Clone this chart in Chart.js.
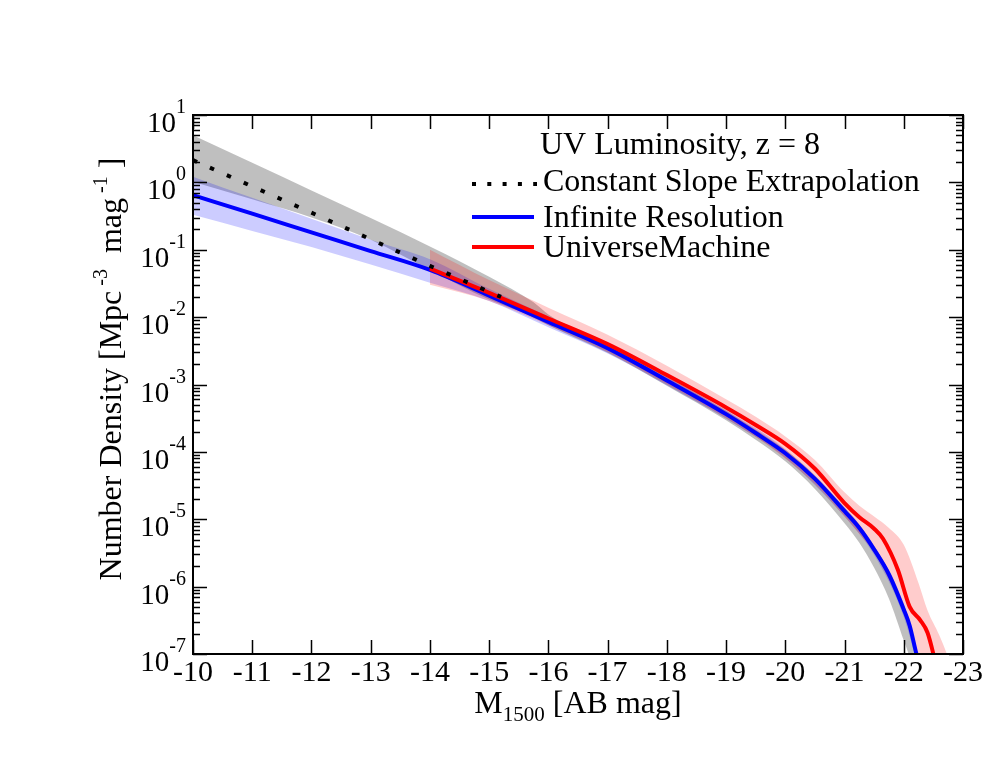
<!DOCTYPE html>
<html>
<head>
<meta charset="utf-8">
<script src="https://cdn.jsdelivr.net/npm/chart.js@4.4.1/dist/chart.umd.min.js"></script>
<style>
  body { margin: 0; background: #fff; }
  #uvlf { display: block; }
</style>
</head>
<body>
<canvas id="uvlf" width="997" height="770"></canvas>
<script>
// values, densities given as log10 (dex)
const magLine = [-10, -11, -12, -13, -14, -15, -16, -17, -18, -19, -19.5, -20, -20.5, -21, -21.25, -21.5, -21.75, -22, -22.1, -22.2, -22.3];
const infiniteResDex = [-0.19, -0.465, -0.743, -1.02, -1.30, -1.68, -2.07, -2.46, -2.94, -3.44, -3.72, -4.02, -4.40, -4.88, -5.13, -5.45, -5.82, -6.34, -6.58, -6.95, -7.3];

const magUM = [-14, -15, -16, -17, -18, -19, -19.5, -20, -20.5, -21, -21.25, -21.5, -21.65, -21.9, -22.1, -22.28, -22.4, -22.5, -22.6];
const universeMachineDex = [-1.28, -1.64, -2.02, -2.40, -2.86, -3.34, -3.60, -3.88, -4.25, -4.76, -4.97, -5.14, -5.29, -5.75, -6.3, -6.5, -6.68, -7.0, -7.4];

const magSlope = [-10, -12, -14, -15.2];
const constSlopeDex = [0.33, -0.45, -1.24, -1.70];

const magGrey = [-10, -11, -12, -13, -14, -15, -15.75, -16, -17, -18, -19, -19.5, -20, -20.5, -21, -21.25, -21.5, -21.75, -22, -22.1, -22.2];
const greyUpperDex = [0.70, 0.29, -0.12, -0.53, -0.95, -1.40, -1.78, -1.96, -2.41, -2.89, -3.39, -3.67, -3.97, -4.35, -4.83, -5.08, -5.40, -5.77, -6.28, -6.52, -6.9];
const greyLowerDex = [0.01, -0.25, -0.52, -0.85, -1.30, -1.74, -2.0, -2.12, -2.53, -3.02, -3.53, -3.82, -4.14, -4.55, -5.06, -5.35, -5.72, -6.18, -6.8, -7.05, -7.4];

const magBlueBand = [-10, -11, -12, -13, -14, -15, -16, -17, -18, -19, -20, -21, -21.5, -22, -22.3];
const blueUpperDex = [0.085, -0.23, -0.54, -0.85, -1.14, -1.58, -1.99, -2.39, -2.88, -3.38, -3.96, -4.82, -5.39, -6.25, -7.2];
const blueLowerDex = [-0.48, -0.72, -0.96, -1.22, -1.49, -1.76, -2.15, -2.54, -3.01, -3.51, -4.09, -4.96, -5.53, -6.45, -7.4];

const magPink = [-14, -15, -16, -17, -18, -19, -19.5, -20, -20.5, -21, -21.25, -21.5, -21.75, -22, -22.25, -22.4, -22.6, -22.75, -22.85];
const pinkUpperDex = [-1.00, -1.45, -1.86, -2.26, -2.72, -3.22, -3.48, -3.77, -4.12, -4.60, -4.80, -4.96, -5.13, -5.38, -5.95, -6.35, -6.72, -7.05, -7.3];
const pinkLowerDex = [-1.52, -1.76, -2.12, -2.52, -3.0, -3.50, -3.78, -4.1, -4.48, -4.96, -5.22, -5.5, -5.9, -6.4, -7.1, -7.4, -7.6, -7.7, -7.8];

const xTicks = [-10, -11, -12, -13, -14, -15, -16, -17, -18, -19, -20, -21, -22, -23];
const yExponents = [1, 0, -1, -2, -3, -4, -5, -6, -7];

const legendTitle = 'UV Luminosity, z = 8';
const legendLabels = ['Constant Slope Extrapolation', 'Infinite Resolution', 'UniverseMachine'];

const FONT = '"Liberation Serif", "Times New Roman", serif';

function toPoints(mags, dex) {
    return mags.map((m, i) => ({ x: m, y: Math.pow(10, dex[i]) }));
}

function band(label, mags, dex, color, fillTo, order) {
    return {
        label: label,
        data: toPoints(mags, dex),
        borderWidth: 0,
        pointRadius: 0,
        backgroundColor: color,
        fill: fillTo,
        cubicInterpolationMode: 'monotone',
        order: order
    };
}

// text runs (normal / super / sub) starting at x, baseline y
function runWidth(ctx, runs) {
    let w = 0;
    runs.forEach(r => { ctx.font = r.size + 'px ' + FONT; w += ctx.measureText(r.t).width; });
    return w;
}
function drawRuns(ctx, runs, x, y) {
    runs.forEach(r => {
        ctx.font = r.size + 'px ' + FONT;
        ctx.fillText(r.t, x, y + (r.dy || 0));
        x += ctx.measureText(r.t).width;
    });
}

const gracePlugin = {
    id: 'graceFrame',
    afterDraw(chart) {
        const ctx = chart.ctx;
        const a = chart.chartArea;
        const xs = chart.scales.x;
        const ys = chart.scales.y;
        ctx.save();
        ctx.fillStyle = '#000';
        ctx.strokeStyle = '#000';

        // frame
        ctx.lineWidth = 2;
        ctx.strokeRect(a.left, a.top, a.right - a.left, a.bottom - a.top);

        // ticks
        ctx.lineWidth = 1.5;
        ctx.beginPath();
        xTicks.forEach(v => {
            const px = Math.round(xs.getPixelForValue(v)) + 0.5;
            ctx.moveTo(px, a.bottom); ctx.lineTo(px, a.bottom - 14);
            ctx.moveTo(px, a.top); ctx.lineTo(px, a.top + 14);
        });
        yExponents.forEach(e => {
            const py = Math.round(ys.getPixelForValue(Math.pow(10, e))) + 0.5;
            ctx.moveTo(a.left, py); ctx.lineTo(a.left + 14, py);
            ctx.moveTo(a.right, py); ctx.lineTo(a.right - 14, py);
            if (e < 1) {
                for (let k = 2; k <= 9; k++) {
                    const pm = Math.round(ys.getPixelForValue(k * Math.pow(10, e))) + 0.5;
                    ctx.moveTo(a.left, pm); ctx.lineTo(a.left + 7, pm);
                    ctx.moveTo(a.right, pm); ctx.lineTo(a.right - 7, pm);
                }
            }
        });
        ctx.stroke();

        // x tick labels
        ctx.textBaseline = 'alphabetic';
        ctx.textAlign = 'center';
        ctx.font = '30px ' + FONT;
        xTicks.forEach(v => {
            ctx.fillText(String(v), xs.getPixelForValue(v), 681);
        });

        // y tick labels 10^n
        ctx.textAlign = 'left';
        yExponents.forEach(e => {
            const py = ys.getPixelForValue(Math.pow(10, e));
            const runs = [{ t: '10', size: 29 }, { t: String(e), size: 20, dy: -19 }];
            const w = runWidth(ctx, runs);
            drawRuns(ctx, runs, a.left - 7 - w, py + 17);
        });

        // x title
        const xt = [{ t: 'M', size: 32 }, { t: '1500', size: 21, dy: 8 }, { t: ' [AB mag]', size: 32 }];
        drawRuns(ctx, xt, (a.left + a.right) / 2 - runWidth(ctx, xt) / 2, 713);

        // y title
        const yt = [
            { t: 'Number Density [Mpc', size: 32 },
            { t: ' -3', size: 20, dy: -14 },
            { t: '  mag', size: 32 },
            { t: ' -1', size: 20, dy: -14 },
            { t: ' ]', size: 32 }
        ];
        ctx.save();
        ctx.translate(121, 369);
        ctx.rotate(-Math.PI / 2);
        drawRuns(ctx, yt, -runWidth(ctx, yt) / 2, 0);
        ctx.restore();

        // legend
        ctx.font = '32px ' + FONT;
        ctx.fillText(legendTitle, 540, 154);
        const rows = [
            { y: 184, base: 191, color: '#000', dash: [4, 11.3] },
            { y: 217, base: 227, color: '#0000ff', dash: [] },
            { y: 247, base: 257, color: '#ff0000', dash: [] }
        ];
        rows.forEach((r, i) => {
            ctx.save();
            ctx.strokeStyle = r.color;
            ctx.lineWidth = 4;
            ctx.lineCap = 'butt';
            ctx.setLineDash(r.dash);
            ctx.beginPath();
            ctx.moveTo(472, r.y);
            ctx.lineTo(r.dash.length ? 537 : 534, r.y);
            ctx.stroke();
            ctx.restore();
            ctx.fillText(legendLabels[i], 543, r.base);
        });
        ctx.restore();
    }
};

const ctx = document.getElementById('uvlf');
const uvChart = new Chart(ctx, {
    type: 'line',
    data: {
        datasets: [
            // 0,1 grey band
            band('grey lower', magGrey, greyLowerDex, 'rgba(0,0,0,0)', false, 10),
            band('grey upper', magGrey, greyUpperDex, 'rgba(128,128,128,0.5)', 0, 9),
            // 2,3 blue band
            band('blue lower', magBlueBand, blueLowerDex, 'rgba(0,0,0,0)', false, 8),
            band('blue upper', magBlueBand, blueUpperDex, 'rgba(0,0,255,0.2)', 2, 7),
            // 4,5 pink band
            band('pink lower', magPink, pinkLowerDex, 'rgba(0,0,0,0)', false, 6),
            band('pink upper', magPink, pinkUpperDex, 'rgba(255,0,0,0.2)', 4, 5),
            {
                label: legendLabels[1],
                data: toPoints(magLine, infiniteResDex),
                borderColor: '#0000ff',
                borderWidth: 4,
                pointRadius: 0,
                fill: false,
                cubicInterpolationMode: 'monotone',
                order: 3
            },
            {
                label: legendLabels[2],
                data: toPoints(magUM, universeMachineDex),
                borderColor: '#ff0000',
                borderWidth: 4,
                pointRadius: 0,
                fill: false,
                cubicInterpolationMode: 'monotone',
                order: 2
            },
            {
                label: legendLabels[0],
                data: toPoints(magSlope, constSlopeDex),
                borderColor: '#000',
                borderWidth: 4,
                borderDash: [4.5, 14],
                borderCapStyle: 'butt',
                pointRadius: 0,
                fill: false,
                order: 1
            }
        ]
    },
    options: {
        responsive: false,
        animation: false,
        devicePixelRatio: 1,
        layout: { padding: { left: 193, right: 34, top: 115, bottom: 116 } },
        scales: {
            x: { type: 'linear', min: -23, max: -10, reverse: true, display: false },
            y: { type: 'logarithmic', min: 1e-7, max: 10, display: false }
        },
        plugins: {
            legend: { display: false },
            tooltip: { enabled: false }
        }
    },
    plugins: [gracePlugin]
});
</script>
</body>
</html>
